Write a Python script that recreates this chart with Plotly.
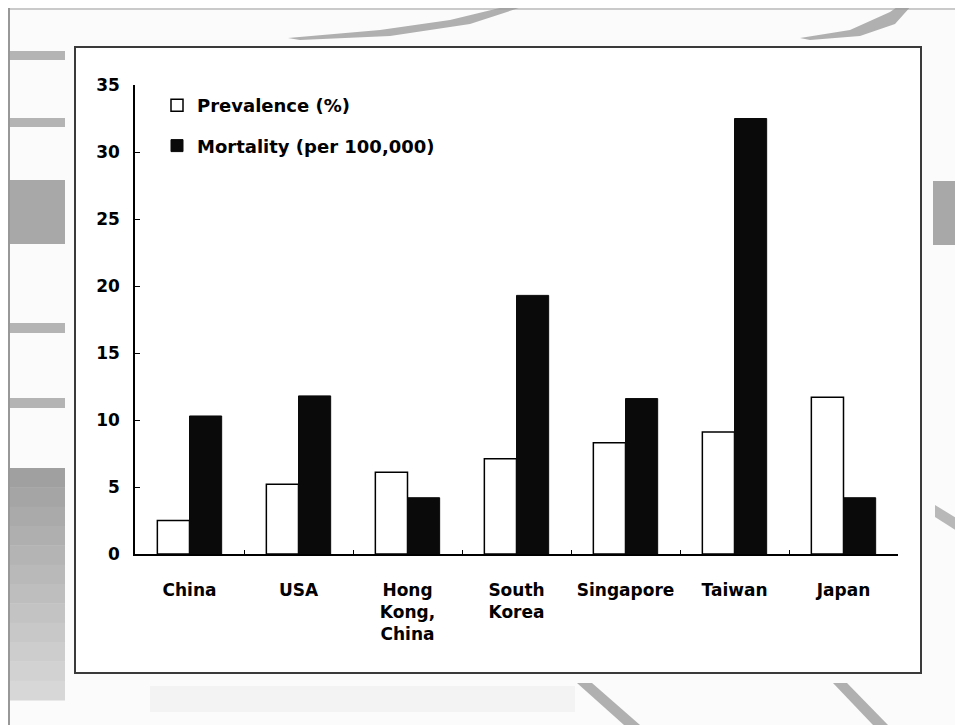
import plotly.graph_objects as go

categories = ["China", "USA", "Hong<br>Kong,<br>China", "South<br>Korea", "Singapore", "Taiwan", "Japan"]
prevalence = [2.5, 5.2, 6.1, 7.1, 8.3, 9.1, 11.7]
mortality = [10.3, 11.8, 4.2, 19.3, 11.6, 32.5, 4.2]
y_ticks = [0, 5, 10, 15, 20, 25, 30, 35]

OFF = 8  # page body margin
W, H = 963 - OFF, 725 - OFF
X0, X1, Y0, Y1 = 135, 898, 85, 554  # plot area in reference pixels
L, T = X0 - OFF, Y0 - OFF
R, B = W - (X1 - OFF), H - (Y1 - OFF)
PW, PH = X1 - X0, Y1 - Y0


def px(x):
    return (x - X0) / PW


def py(y):
    return (Y1 - y) / PH


FONT = "DejaVu Sans"

fig = go.Figure()
fig.add_trace(go.Bar(
    x=categories, y=prevalence, name="Prevalence (%)", legendgroup="a",
    marker=dict(color="white", line=dict(color="black", width=1.5)),
))
fig.add_trace(go.Bar(
    x=categories, y=mortality, name="Mortality (per 100,000)", legendgroup="b",
    marker=dict(color="#0a0a0a", line=dict(color="#0a0a0a", width=1)),
))

shapes = []
gray = "#b4b4b4"


def rect(x0, y0, x1, y1, color, layer="below", line=None):
    shapes.append(dict(type="rect", xref="paper", yref="paper",
                       x0=px(x0), x1=px(x1), y0=py(y1), y1=py(y0),
                       fillcolor=color, line=line or dict(width=0), layer=layer))


def path(points, color):
    d = "M " + " L ".join(f"{px(a):.5f},{py(b):.5f}" for a, b in points) + " Z"
    shapes.append(dict(type="path", xref="paper", yref="paper", path=d,
                       fillcolor=color, line=dict(width=0), layer="below"))


# left decorative stripes
rect(10, 51, 65, 60, gray)
rect(10, 118, 65, 127, gray)
rect(10, 180, 65, 244, "#a8a8a8")
rect(10, 323, 65, 333, gray)
rect(10, 398, 65, 408, gray)
steps = 12
for i in range(steps):
    y0 = 468 + i * (232 / steps)
    c = int(160 + i * (60 / steps))
    rect(10, y0, 65, y0 + 232 / steps + 0.5, f"rgb({c},{c},{c})")
# right block
rect(933, 181, 963, 245, "#a8a8a8")
# light band bottom-left
rect(150, 686, 575, 712, "#f3f3f3")
# swooshes
path([(288, 38), (380, 30), (450, 20), (512, 5), (528, 5), (470, 24), (390, 36), (300, 40)], "#b0b0b0")
path([(800, 38), (850, 30), (890, 12), (900, 5), (912, 5), (895, 24), (860, 36), (810, 40)], "#b0b0b0")
path([(577, 683), (592, 683), (640, 725), (624, 725)], "#b0b0b0")
path([(833, 683), (847, 683), (888, 725), (873, 725)], "#b0b0b0")
path([(935, 505), (963, 522), (963, 535), (935, 517)], "#b8b8b8")
# outer image borders
shapes.append(dict(type="line", xref="paper", yref="paper", x0=px(9), x1=px(9), y0=py(8), y1=py(725),
                   line=dict(color="#777777", width=1.5), layer="below"))
shapes.append(dict(type="line", xref="paper", yref="paper", x0=px(9), x1=px(963), y0=py(9), y1=py(9),
                   line=dict(color="#999999", width=1), layer="below"))
# chart frame
rect(75, 47, 921, 673, "white", layer="below", line=dict(color="#3a3a3a", width=2))

fig.update_layout(
    width=W, height=H,
    margin=dict(l=L, r=R, t=T, b=B, pad=0),
    paper_bgcolor="#fbfbfb", plot_bgcolor="rgba(0,0,0,0)",
    barmode="group", bargap=0.41, bargroupgap=0,
    shapes=shapes,
    showlegend=True,
    legend=dict(
        x=px(157), y=py(87), xanchor="left", yanchor="top",
        bgcolor="rgba(0,0,0,0)", borderwidth=0,
        font=dict(family=FONT, size=18, color="black", weight="bold"),
        tracegroupgap=14, traceorder="grouped", itemwidth=30,
    ),
    font=dict(family=FONT, color="black"),
)
fig.update_xaxes(
    showline=True, linecolor="black", linewidth=1.5,
    ticks="inside", tickson="boundaries", ticklen=4, tickcolor="black",
    tickfont=dict(family=FONT, size=17, color="black", weight="bold"),
    ticklabelstandoff=20, showgrid=False, zeroline=False,
)
fig.update_yaxes(
    range=[0, 35], tickvals=y_ticks, showline=True, linecolor="black", linewidth=1.5,
    ticks="inside", ticklen=5, tickcolor="black",
    tickfont=dict(family=FONT, size=17, color="black", weight="bold"),
    ticklabelstandoff=10, showgrid=False, zeroline=False,
)

fig.write_html("out.html")
